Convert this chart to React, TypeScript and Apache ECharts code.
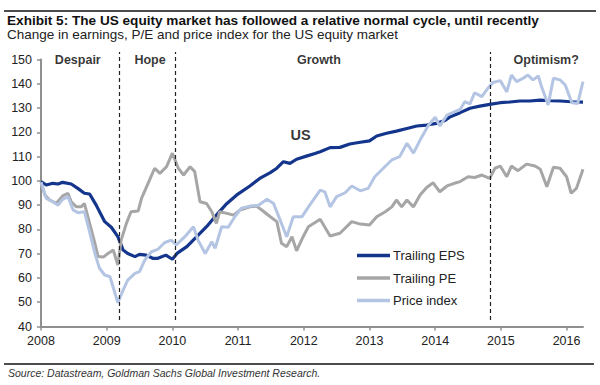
import React, { useEffect, useRef } from "react";
import * as echarts from "echarts";

const yearTicks = [2008, 2009, 2010, 2011, 2012, 2013, 2014, 2015, 2016];

const trailingEPS: [number, number][] = [
  [2008.0, 99.7], [2008.08, 98.3], [2008.18, 99.0], [2008.26, 98.7], [2008.33, 99.4], [2008.46, 98.7],
  [2008.56, 96.9], [2008.66, 94.9], [2008.74, 94.6], [2008.84, 90.0], [2008.97, 83.2], [2009.07, 80.9],
  [2009.17, 77.0], [2009.25, 71.5], [2009.32, 70.1], [2009.43, 68.8], [2009.5, 69.7], [2009.6, 69.4],
  [2009.7, 68.1], [2009.78, 68.1], [2009.9, 69.4], [2010.0, 67.7], [2010.07, 70.1], [2010.22, 72.9],
  [2010.37, 77.0], [2010.52, 81.1], [2010.67, 85.9], [2010.83, 90.7], [2010.98, 94.2], [2011.18, 97.9],
  [2011.33, 101.0], [2011.49, 103.4], [2011.59, 105.2], [2011.69, 107.9], [2011.79, 107.2], [2011.89, 108.9],
  [2012.04, 110.2], [2012.17, 111.3], [2012.25, 112.0], [2012.4, 113.7], [2012.55, 113.8], [2012.7, 115.2],
  [2012.86, 115.9], [2013.0, 116.5], [2013.11, 118.5], [2013.26, 119.6], [2013.41, 120.5], [2013.57, 121.6],
  [2013.72, 122.6], [2013.87, 123.0], [2014.02, 123.7], [2014.15, 124.9], [2014.23, 126.4], [2014.38, 128.1],
  [2014.53, 129.9], [2014.68, 130.8], [2014.83, 131.5], [2014.99, 132.2], [2015.14, 132.5], [2015.29, 132.9],
  [2015.44, 132.9], [2015.6, 133.3], [2015.75, 133.0], [2015.9, 132.9], [2016.08, 132.6], [2016.25, 132.4],
];

const trailingPE: [number, number][] = [
  [2008.0, 99.4], [2008.06, 94.2], [2008.13, 92.1], [2008.23, 90.7], [2008.33, 93.8], [2008.41, 94.9],
  [2008.46, 91.4], [2008.54, 89.3], [2008.61, 89.3], [2008.66, 90.7], [2008.74, 82.5], [2008.82, 74.3],
  [2008.87, 68.8], [2008.95, 68.6], [2009.02, 70.1], [2009.1, 71.5], [2009.17, 65.3], [2009.22, 75.6],
  [2009.3, 82.5], [2009.37, 87.3], [2009.48, 87.6], [2009.53, 92.8], [2009.63, 99.0], [2009.73, 105.2],
  [2009.81, 103.1], [2009.91, 105.8], [2010.0, 111.4], [2010.09, 105.2], [2010.17, 102.4], [2010.27, 105.8],
  [2010.34, 103.8], [2010.42, 91.4], [2010.52, 90.7], [2010.6, 87.3], [2010.67, 82.5], [2010.72, 87.3],
  [2010.83, 86.6], [2010.93, 85.9], [2011.03, 88.0], [2011.18, 89.3], [2011.28, 89.6], [2011.36, 88.0],
  [2011.49, 85.2], [2011.59, 83.2], [2011.66, 74.3], [2011.74, 72.9], [2011.82, 77.0], [2011.89, 71.2],
  [2011.99, 77.0], [2012.07, 81.1], [2012.25, 84.2], [2012.4, 77.3], [2012.55, 78.4], [2012.73, 83.2],
  [2012.86, 82.2], [2013.0, 81.8], [2013.11, 85.2], [2013.24, 87.3], [2013.34, 89.3], [2013.41, 92.1],
  [2013.49, 89.3], [2013.57, 92.1], [2013.67, 89.3], [2013.77, 94.2], [2013.87, 97.3], [2013.97, 99.2],
  [2014.07, 95.5], [2014.18, 97.9], [2014.28, 98.9], [2014.38, 99.7], [2014.5, 101.7], [2014.6, 101.4],
  [2014.71, 102.4], [2014.83, 101.0], [2014.91, 105.2], [2014.99, 106.1], [2015.09, 101.7], [2015.16, 106.1],
  [2015.26, 104.2], [2015.39, 106.9], [2015.52, 106.1], [2015.6, 104.8], [2015.7, 97.6], [2015.8, 105.6],
  [2015.9, 105.2], [2016.0, 101.7], [2016.07, 94.9], [2016.15, 96.9], [2016.25, 104.8],
];

const priceIndex: [number, number][] = [
  [2008.0, 99.4], [2008.08, 92.8], [2008.18, 91.4], [2008.26, 90.0], [2008.33, 92.4], [2008.41, 93.5],
  [2008.49, 88.0], [2008.56, 86.9], [2008.66, 87.3], [2008.74, 79.0], [2008.82, 70.1], [2008.89, 64.0],
  [2008.97, 61.2], [2009.05, 60.5], [2009.17, 49.8], [2009.25, 55.0], [2009.32, 59.1], [2009.43, 61.9],
  [2009.5, 62.6], [2009.58, 67.4], [2009.68, 70.8], [2009.78, 71.8], [2009.88, 74.5], [2009.98, 75.6],
  [2010.06, 73.6], [2010.19, 77.0], [2010.32, 81.1], [2010.39, 75.6], [2010.5, 70.1], [2010.6, 74.9],
  [2010.65, 72.2], [2010.75, 81.1], [2010.85, 80.9], [2010.95, 85.2], [2011.05, 88.7], [2011.18, 89.6],
  [2011.31, 90.0], [2011.44, 92.4], [2011.54, 90.7], [2011.61, 85.9], [2011.74, 77.0], [2011.84, 85.2],
  [2011.97, 85.2], [2012.09, 90.0], [2012.25, 96.2], [2012.32, 95.5], [2012.4, 89.3], [2012.5, 93.5],
  [2012.63, 95.1], [2012.73, 97.9], [2012.86, 95.9], [2012.98, 96.9], [2013.08, 101.7], [2013.21, 105.2],
  [2013.34, 108.6], [2013.46, 110.0], [2013.57, 115.5], [2013.67, 111.4], [2013.77, 116.8], [2013.9, 123.0],
  [2014.0, 126.2], [2014.07, 122.6], [2014.18, 127.1], [2014.3, 128.5], [2014.38, 129.4], [2014.45, 132.6],
  [2014.53, 131.7], [2014.6, 136.3], [2014.71, 134.7], [2014.8, 138.1], [2014.88, 140.5], [2014.99, 141.3],
  [2015.09, 136.7], [2015.16, 143.6], [2015.24, 140.9], [2015.34, 142.3], [2015.41, 143.6], [2015.49, 141.6],
  [2015.57, 143.2], [2015.62, 138.8], [2015.72, 131.3], [2015.8, 142.3], [2015.9, 141.6], [2015.98, 139.5],
  [2016.08, 132.2], [2016.17, 131.9], [2016.25, 140.9],
];

const phaseBreaks = [2009.19, 2010.05, 2014.84];
const phaseNames = ["Despair", "Hope", "Growth", "Optimism?"];
const phaseLabelX = [2008.56, 2009.66, 2012.23, 2015.69];
const phaseLabelY = 150;
const usLabel: [number, number] = [2011.95, 118.9];

const FONT = "'Liberation Sans', Arial, Helvetica, sans-serif";
const C_EPS = "#14358c";
const C_PE = "#a6a6a6";
const C_PRICE = "#b4c5e4";
const AXIS = "#8f8f8f";

export default function App() {
  const ref = useRef<HTMLDivElement>(null);
  useEffect(() => {
    if (!ref.current) return;
    const chart = echarts.init(ref.current, undefined, { renderer: "svg" });
    const gridPos = { left: 41, right: 17 };
    const textLabel = (size: number) => ({
      show: true,
      position: "inside",
      formatter: (p: any) => p.name,
      fontSize: size,
      fontWeight: "bold",
      color: "#000",
      fontFamily: FONT,
    });
    chart.setOption({
      animation: false,
      backgroundColor: "#ffffff",
      textStyle: { fontFamily: FONT },
      title: [
        {
          text: "Exhibit 5: The US equity market has followed a relative normal cycle, until recently",
          left: 7,
          top: 13.5,
          padding: 0,
          textStyle: { fontSize: 13.6, fontWeight: "bold", color: "#111", fontFamily: FONT },
        },
        {
          text: "Change in earnings, P/E and price index for the US equity market",
          left: 7,
          top: 27,
          padding: 0,
          textStyle: { fontSize: 13.5, fontWeight: "normal", color: "#222", fontFamily: FONT },
        },
      ],
      legend: {
        data: ["Trailing EPS", "Trailing PE", "Price index"],
        orient: "vertical",
        left: 357,
        top: 249,
        icon: "rect",
        itemWidth: 33,
        itemHeight: 3.5,
        itemGap: 9.5,
        padding: 0,
        textStyle: { fontSize: 13, color: "#222", fontFamily: FONT, padding: [0, 0, 0, -2] },
      },
      grid: [
        { ...gridPos, top: 59.5, bottom: 58.5 },
        { ...gridPos, top: 52, bottom: 65 },
      ],
      xAxis: [
        {
          type: "value",
          gridIndex: 0,
          min: 2008,
          max: 2016.25,
          interval: 1,
          splitLine: { show: false },
          axisLine: { show: true, lineStyle: { color: AXIS, width: 2 } },
          axisTick: { show: true, inside: false, length: 4, lineStyle: { color: AXIS, width: 1.5 }, customValues: yearTicks },
          axisLabel: {
            fontSize: 12.5,
            color: "#222",
            margin: 8,
            fontFamily: FONT,
            customValues: yearTicks,
            formatter: (v: number) => (Number.isInteger(v) ? String(v) : ""),
          },
        },
        { type: "value", gridIndex: 1, min: 2008, max: 2016.25, show: false },
      ],
      yAxis: [
        {
          type: "value",
          gridIndex: 0,
          min: 40,
          max: 150,
          interval: 10,
          splitLine: { show: false },
          axisLine: { show: true, lineStyle: { color: AXIS, width: 2 } },
          axisTick: { show: true, length: 4, lineStyle: { color: AXIS, width: 1.5 } },
          axisLabel: { fontSize: 12.5, color: "#222", margin: 9, fontFamily: FONT },
        },
        { type: "value", gridIndex: 1, min: 0, max: 1, show: false },
      ],
      series: [
        {
          name: "Trailing EPS",
          type: "line",
          data: trailingEPS,
          showSymbol: false,
          symbol: "none",
          lineStyle: { color: C_EPS, width: 3.2 },
          itemStyle: { color: C_EPS },
        },
        {
          name: "Trailing PE",
          type: "line",
          data: trailingPE,
          showSymbol: false,
          symbol: "none",
          lineStyle: { color: C_PE, width: 3 },
          itemStyle: { color: C_PE },
        },
        {
          name: "Price index",
          type: "line",
          data: priceIndex,
          showSymbol: false,
          symbol: "none",
          lineStyle: { color: C_PRICE, width: 3 },
          itemStyle: { color: C_PRICE },
        },
        {
          name: "phases",
          type: "line",
          xAxisIndex: 1,
          yAxisIndex: 1,
          data: [[2008, 0]],
          showSymbol: false,
          symbol: "none",
          lineStyle: { opacity: 0 },
          silent: true,
          markLine: {
            silent: true,
            symbol: ["none", "none"],
            label: { show: false },
            lineStyle: { type: [4, 3], color: "#222", width: 1.2 },
            data: phaseBreaks.map((v) => ({ xAxis: v })),
          },
        },
        {
          name: "phaseLabels",
          type: "scatter",
          data: phaseLabelX.map((x, i) => ({ value: [x, phaseLabelY], name: phaseNames[i] })),
          symbol: "circle",
          symbolSize: 2,
          itemStyle: { color: "rgba(255,255,255,0)" },
          clip: false,
          silent: true,
          z: 5,
          label: textLabel(12.5),
        },
        {
          name: "usLabel",
          type: "scatter",
          data: [{ value: usLabel, name: "US" }],
          symbol: "circle",
          symbolSize: 2,
          itemStyle: { color: "rgba(255,255,255,0)" },
          clip: false,
          silent: true,
          z: 5,
          label: textLabel(14.5),
        },
      ],
      graphic: [
        { type: "line", shape: { x1: 4, y1: 11, x2: 596, y2: 11 }, style: { stroke: "#111", lineWidth: 1.5 } },
        { type: "line", shape: { x1: 4, y1: 364, x2: 594, y2: 364 }, style: { stroke: "#111", lineWidth: 1.5 } },
        {
          type: "text",
          x: 8,
          y: 373,
          style: {
            text: "Source: Datastream, Goldman Sachs Global Investment Research.",
            font: `italic 10.5px ${FONT}`,
            fill: "#333",
            verticalAlign: "middle",
          },
        },
      ],
    });
    return () => chart.dispose();
  }, []);
  return <div ref={ref} style={{ width: 600, height: 385, position: "absolute", left: 0, top: 0 }} />;
}
